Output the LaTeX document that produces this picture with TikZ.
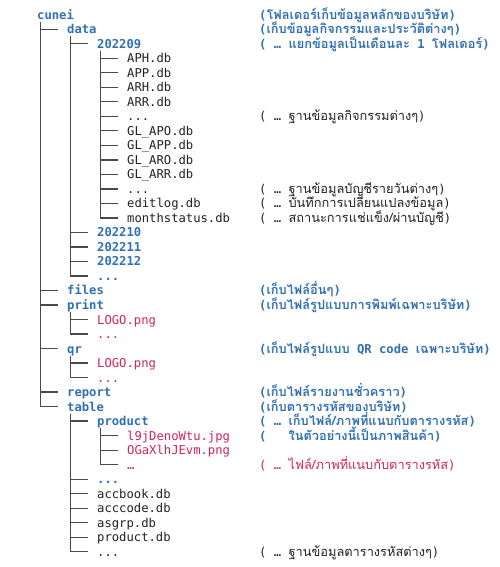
\documentclass[tikz,border=0pt]{standalone}
\usepackage{fontspec}
\setmonofont{DejaVu Sans Mono}
\newfontfamily\thaifont[Script=Thai,Scale=1.05]{Loma}
\definecolor{dirblue}{HTML}{3170B2}
\definecolor{filered}{HTML}{D3245C}
\definecolor{txtblack}{HTML}{222222}
\definecolor{treegray}{HTML}{4A4A4A}
\newcommand\thx[1]{{\thaifont #1}}
\begin{document}
\begin{tikzpicture}[x=1pt,y=-1pt,
  entry/.style={anchor=base west, inner sep=0pt, text height=9pt, text depth=0pt,
    font=\fontsize{12.2}{14}\selectfont\ttfamily, text=txtblack},
  dir/.style={entry, text=dirblue, font=\fontsize{12.2}{14}\selectfont\ttfamily\bfseries},
  redfile/.style={entry, text=filered},
  note/.style={anchor=base west, inner sep=0pt, font=\fontsize{12.2}{14}\selectfont\ttfamily, text=txtblack},
  bnote/.style={note, text=dirblue, font=\fontsize{12.2}{14}\selectfont\ttfamily\bfseries},
  rnote/.style={note, text=filered},
  branch/.style={draw=treegray, line width=1.2pt}]
\fill[white] (0,0) rectangle (500,567);
\useasboundingbox (0,0) rectangle (500,567);
% tree entries
\node[dir] (cunei) at (37,{19.3+14.51*0}) {cunei};
\node[dir] (data) at (67,{19.3+14.51*1}) {data};
\node[dir] (m09) at (97,{19.3+14.51*2}) {202209};
\node[entry] (aph) at (127,{19.3+14.51*3}) {APH.db};
\node[entry] (app) at (127,{19.3+14.51*4}) {APP.db};
\node[entry] (arh) at (127,{19.3+14.51*5}) {ARH.db};
\node[entry] (arr) at (127,{19.3+14.51*6}) {ARR.db};
\node[entry] (dotsa) at (127,{19.3+14.51*7}) {...};
\node[entry] (glapo) at (127,{19.3+14.51*8}) {GL\_APO.db};
\node[entry] (glapp) at (127,{19.3+14.51*9}) {GL\_APP.db};
\node[entry] (glaro) at (127,{19.3+14.51*10}) {GL\_ARO.db};
\node[entry] (glarr) at (127,{19.3+14.51*11}) {GL\_ARR.db};
\node[entry] (dotsb) at (127,{19.3+14.51*12}) {...};
\node[entry] (editlog) at (127,{19.3+14.51*13}) {editlog.db};
\node[entry] (month) at (127,{19.3+14.51*14}) {monthstatus.db};
\node[dir] (m10) at (97,{19.3+14.51*15}) {202210};
\node[dir] (m11) at (97,{19.3+14.51*16}) {202211};
\node[dir] (m12) at (97,{19.3+14.51*17}) {202212};
\node[dir] (mdots) at (97,{19.3+14.51*18}) {...};
\node[dir] (files) at (67,{19.3+14.51*19}) {files};
\node[dir] (print) at (67,{19.3+14.51*20}) {print};
\node[redfile] (plogo) at (97,{19.3+14.51*21}) {LOGO.png};
\node[redfile] (pdots) at (97,{19.3+14.51*22}) {...};
\node[dir] (qr) at (67,{19.3+14.51*23}) {qr};
\node[redfile] (qlogo) at (97,{19.3+14.51*24}) {LOGO.png};
\node[redfile] (qdots) at (97,{19.3+14.51*25}) {...};
\node[dir] (report) at (67,{19.3+14.51*26}) {report};
\node[dir] (table) at (67,{19.3+14.51*27}) {table};
\node[dir] (product) at (97,{19.3+14.51*28}) {product};
\node[redfile] (img1) at (127,{19.3+14.51*29}) {l9jDenoWtu.jpg};
\node[redfile] (img2) at (127,{19.3+14.51*30}) {OGaXlhJEvm.png};
\node[redfile] (imgdots) at (127,{19.3+14.51*31}) {…};
\node[dir] (tdots) at (97,{19.3+14.51*32}) {...};
\node[entry] (accbook) at (97,{19.3+14.51*33}) {accbook.db};
\node[entry] (acccode) at (97,{19.3+14.51*34}) {acccode.db};
\node[entry] (asgrp) at (97,{19.3+14.51*35}) {asgrp.db};
\node[entry] (productdb) at (97,{19.3+14.51*36}) {product.db};
\node[entry] (tdotsb) at (97,{19.3+14.51*37}) {...};
% branches
\foreach \p/\c in {cunei/data, cunei/files, cunei/print, cunei/qr, cunei/report, cunei/table,
  data/m09, data/m10, data/m11, data/m12, data/mdots,
  m09/aph, m09/app, m09/arh, m09/arr, m09/dotsa, m09/glapo, m09/glapp, m09/glaro, m09/glarr,
  m09/dotsb, m09/editlog, m09/month,
  print/plogo, print/pdots, qr/qlogo, qr/qdots,
  table/product, table/tdots, table/accbook, table/acccode, table/asgrp, table/productdb, table/tdotsb,
  product/img1, product/img2, product/imgdots}
  \draw[branch] ([xshift=3.5pt,yshift=-2.5pt]\p.base west) |- ([xshift=-9pt,yshift=4.5pt]\c.base west);
% notes
\node[bnote] (n0) at (259,{19.3+14.51*0}) {(\thx{\bfseries โฟลเดอร์เก็บข้อมูลหลักของบริษัท})};
\node[bnote] (n1) at (259,{19.3+14.51*1}) {(\thx{\bfseries เก็บข้อมูลกิจกรรมและประวัติต่างๆ})};
\node[bnote] (n2) at (259,{19.3+14.51*2}) {( … \thx{\bfseries แยกข้อมูลเป็นเดือนละ} 1 \thx{\bfseries โฟลเดอร์})};
\node[note] (n7) at (259,{19.3+14.51*7}) {( … \thx{ฐานข้อมูลกิจกรรมต่างๆ})};
\node[note] (n12) at (259,{19.3+14.51*12}) {( … \thx{ฐานข้อมูลบัญชีรายวันต่างๆ})};
\node[note] (n13) at (259,{19.3+14.51*13}) {( … \thx{บันทึกการเปลี่ยนแปลงข้อมูล})};
\node[note] (n14) at (259,{19.3+14.51*14}) {( … \thx{สถานะการแช่แข็ง/ผ่านบัญชี})};
\node[bnote] (n19) at (259,{19.3+14.51*19}) {(\thx{\bfseries เก็บไฟล์อื่นๆ})};
\node[bnote] (n20) at (259,{19.3+14.51*20}) {(\thx{\bfseries เก็บไฟล์รูปแบบการพิมพ์เฉพาะบริษัท})};
\node[bnote] (n23) at (259,{19.3+14.51*23}) {(\thx{\bfseries เก็บไฟล์รูปแบบ} QR code \thx{\bfseries เฉพาะบริษัท})};
\node[bnote] (n26) at (259,{19.3+14.51*26}) {(\thx{\bfseries เก็บไฟล์รายงานชั่วคราว})};
\node[bnote] (n27) at (259,{19.3+14.51*27}) {(\thx{\bfseries เก็บตารางรหัสของบริษัท})};
\node[bnote] (n28) at (259,{19.3+14.51*28}) {( … \thx{\bfseries เก็บไฟล์/ภาพที่แนบกับตารางรหัส})};
\node[bnote] (n29) at (259,{19.3+14.51*29}) {(\hspace{22pt}\thx{\bfseries ในตัวอย่างนี้เป็นภาพสินค้า})};
\node[rnote] (n31) at (259,{19.3+14.51*31}) {( … \thx{ไฟล์/ภาพที่แนบกับตารางรหัส})};
\node[note] (n37) at (259,{19.3+14.51*37}) {( … \thx{ฐานข้อมูลตารางรหัสต่างๆ})};
\end{tikzpicture}
\end{document}
